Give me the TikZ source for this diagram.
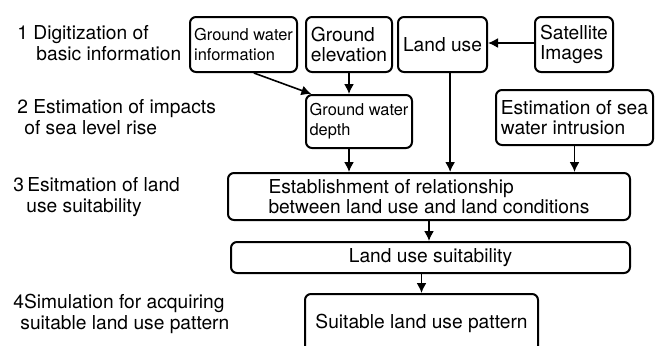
\documentclass[tikz,border=0pt]{standalone}
\usepackage{fontspec}
\setmainfont{TeX Gyre Heros}
\usepackage{tikz}
\usetikzlibrary{arrows.meta}
\usetikzlibrary{positioning}
\newcommand{\bigtxt}{\fontsize{9.6}{10.2}\selectfont}
\newcommand{\smalltxt}{\fontsize{8.2}{10}\selectfont}
\tikzset{
    blk/.style={
           rectangle, rounded corners=3pt,
           draw=black, line width=1pt,
           inner sep=1pt,
           align=left,
           font=\bigtxt,
           },
}
\tikzset{
    lbl/.style={
           anchor=west,
           inner sep=0pt,
           align=left,
           font=\bigtxt,
           },
}
\tikzset{
    arr/.style={
           ->, >={Latex[length=5pt,width=5pt]},
           line width=0.8pt,
           },
}

\begin{document}
\begin{tikzpicture}[x=0.5pt,y=-0.5pt]
\useasboundingbox (0,0) rectangle (659,345);
\node[lbl] (step1) at (17,43) {1 Digitization of\\\hspace*{9.5pt}basic information};
\node[lbl] (step2) at (17,117) {2 Estimation of impacts\\\hspace*{3.5pt}of sea level rise};
\node[lbl] (step3) at (13,197) {3\,Esitmation of land\\\hspace*{6.5pt}use suitability};
\node[lbl] (step4) at (13,314) {4Simulation for acquiring\\\hspace*{3.5pt}suitable land use pattern};
\node[blk, font=\smalltxt, minimum width=53.5pt, minimum height=27.5pt] (gwinfo) at (243.5,44.5) {Ground water\\information};
\node[blk, minimum width=43pt, minimum height=27.5pt] (elev) at (349,44.5) {Ground\\elevation};
\node[blk, minimum width=44.5pt, minimum height=27.5pt] (landuse) at (442.5,44.5) {Land use};
\node[blk, minimum width=39pt, minimum height=27.5pt] (sat) at (574,44.5) {Satellite\\Images};
\node[blk, font=\smalltxt, minimum width=53pt, minimum height=26.5pt] (depth) at (359,121.5) {Ground water\\depth};
\node[blk, minimum width=78.5pt, minimum height=27.5pt] (intrusion) at (574.5,117.5) {Estimation of sea\\water intrusion};
\node[blk, minimum width=201pt, minimum height=23.5pt] (relation) at (429,196.5) {Establishment of relationship\\between land use and land conditions};
\node[blk, minimum width=199.5pt, minimum height=15.5pt] (suit) at (430.5,257.5) {Land use suitability};
\node[blk, anchor=north, minimum width=116.5pt, minimum height=29pt] (pattern) at (421.5,293) {Suitable land use pattern};
\draw[arr] (sat.west |- 0,43) -- (landuse.east |- 0,43);
\draw[arr] (gwinfo.-70) -- (depth.150);
\draw[arr] (elev.south) -- (elev.south |- depth.north);
\draw[arr] (elev.south |- depth.south) -- (elev.south |- relation.north);
\draw[arr] (landuse.-75) -- (landuse.-75 |- relation.north);
\draw[arr] (intrusion.south) -- (intrusion.south |- relation.north);
\draw[arr] (relation.south) -- (relation.south |- suit.north);
\draw[arr] (pattern.north |- suit.south) -- (pattern.north);
\end{tikzpicture}
\end{document}
